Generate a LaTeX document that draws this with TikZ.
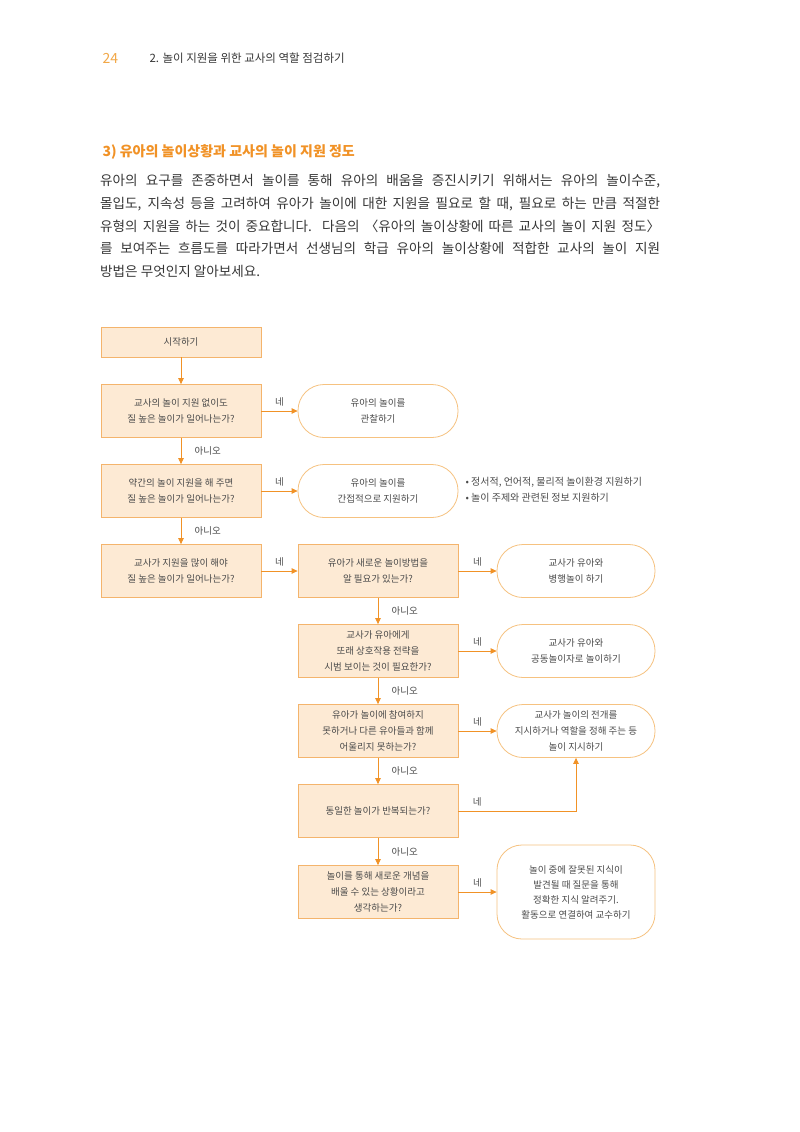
\documentclass[tikz,border=0pt]{standalone}
\usepackage{fontspec}
\setmainfont{Noto Sans CJK KR}
\usetikzlibrary{arrows.meta,positioning}
\definecolor{accent}{RGB}{241,146,38}
\definecolor{pagenum}{RGB}{242,168,72}
\definecolor{boxfill}{RGB}{253,234,212}
\definecolor{boxline}{RGB}{244,180,108}
\definecolor{endline}{RGB}{246,194,128}
\definecolor{ink}{RGB}{75,75,75}
\definecolor{bodyink}{RGB}{55,55,55}

\begin{document}
\begin{tikzpicture}[x=1pt,y=-1pt,>={Triangle[length=6pt,width=5.5pt]},
  every node/.style={font=\fontsize{9.5}{16}\selectfont,text=ink,align=center},
  qbox/.style={draw=boxline,fill=boxfill,line width=0.8pt,minimum width=160pt,minimum height=53pt,inner sep=2pt},
  endbox/.style={draw=endline,fill=white,line width=0.8pt,minimum width=158pt,minimum height=53pt,rounded corners=26pt},
  flow/.style={->,draw=accent,line width=0.8pt},
  yes/.style={above=1pt,pos=.5},
  no/.style={right=10pt,pos=.5}]
\useasboundingbox[fill=white] (0,0) rectangle (800,1132);
\node[anchor=west,font=\fontsize{14}{14}\selectfont,text=pagenum] (pg) at (99,58) {24};
\node[anchor=west,font=\fontsize{11.5}{11.5}\selectfont,text=bodyink] (chap) at (146,58) {2. 놀이 지원을 위한 교사의 역할 점검하기};
\node[anchor=west,font=\bfseries\fontsize{14}{14}\selectfont,text=accent] (sec) at (99,152) {3) 유아의 놀이상황과 교사의 놀이 지원 정도};
\node[anchor=north west,text width=560pt,align=justify,inner sep=0pt,font=\fontsize{13.6}{22.8}\selectfont,text=bodyink] (body) at (100,174)
  {유아의 요구를 존중하면서 놀이를 통해 유아의 배움을 증진시키기 위해서는 유아의 놀이수준,\linebreak
   몰입도, 지속성 등을 고려하여 유아가 놀이에 대한 지원을 필요로 할 때, 필요로 하는 만큼 적절한\linebreak
   유형의 지원을 하는 것이 중요합니다. 다음의 〈유아의 놀이상황에 따른 교사의 놀이 지원 정도〉\linebreak
   를 보여주는 흐름도를 따라가면서 선생님의 학급 유아의 놀이상황에 적합한 교사의 놀이 지원\linebreak
   방법은 무엇인지 알아보세요.};

\node[qbox,minimum height=30pt] (st) at (181,342) {시작하기};
\node[qbox] (q1) at (181,411) {교사의 놀이 지원 없이도\\질 높은 놀이가 일어나는가?};
\node[qbox] (q2) at (181,491) {약간의 놀이 지원을 해 주면\\질 높은 놀이가 일어나는가?};
\node[qbox] (q3) at (181,571) {교사가 지원을 많이 해야\\질 높은 놀이가 일어나는가?};
\node[qbox] (q4) at (378,571) {유아가 새로운 놀이방법을\\알 필요가 있는가?};
\node[qbox] (q5) at (378,651) {교사가 유아에게\\또래 상호작용 전략을\\시범 보이는 것이 필요한가?};
\node[qbox] (q6) at (378,731) {유아가 놀이에 참여하지\\못하거나 다른 유아들과 함께\\어울리지 못하는가?};
\node[qbox] (q7) at (378,811) {동일한 놀이가 반복되는가?};
\node[qbox] (q8) at (378,892) {놀이를 통해 새로운 개념을\\배울 수 있는 상황이라고\\생각하는가?};

\node[endbox,minimum width=160pt] (t1) at (378,411) {유아의 놀이를\\관찰하기};
\node[endbox,minimum width=160pt] (t2) at (378,491) {유아의 놀이를\\간접적으로 지원하기};
\node[endbox] (t3) at (576,571) {교사가 유아와\\병행놀이 하기};
\node[endbox] (t4) at (576,651) {교사가 유아와\\공동놀이자로 놀이하기};
\node[endbox] (t5) at (576,731) {교사가 놀이의 전개를\\지시하거나 역할을 정해 주는 등\\놀이 지시하기};
\node[endbox,minimum height=94pt,rounded corners=25pt,font=\fontsize{9.5}{15}\selectfont] (t6) at (576,892) {놀이 중에 잘못된 지식이\\발견될 때 질문을 통해\\정확한 지식 알려주기.\\활동으로 연결하여 교수하기};
\node[anchor=west,align=left,font=\fontsize{10}{16}\selectfont] (tips) at (462,490) {• 정서적, 언어적, 물리적 놀이환경 지원하기\\• 놀이 주제와 관련된 정보 지원하기};

\draw[flow] (st) -- (q1);
\draw[flow] (q1) -- node[yes]{네} (t1);
\draw[flow] (q1) -- node[no]{아니오} (q2);
\draw[flow] (q2) -- node[yes]{네} (t2);
\draw[flow] (q2) -- node[no]{아니오} (q3);
\draw[flow] (q3) -- node[yes]{네} (q4);
\draw[flow] (q4) -- node[yes]{네} (t3);
\draw[flow] (q4) -- node[no]{아니오} (q5);
\draw[flow] (q5) -- node[yes]{네} (t4);
\draw[flow] (q5) -- node[no]{아니오} (q6);
\draw[flow] (q6) -- node[yes]{네} (t5);
\draw[flow] (q6) -- node[no]{아니오} (q7);
\draw[flow] (q7) -| node[yes,pos=.08]{네} (t5);
\draw[flow] (q7) -- node[no]{아니오} (q8);
\draw[flow] (q8) -- node[yes]{네} (t6);
\end{tikzpicture}
\end{document}
